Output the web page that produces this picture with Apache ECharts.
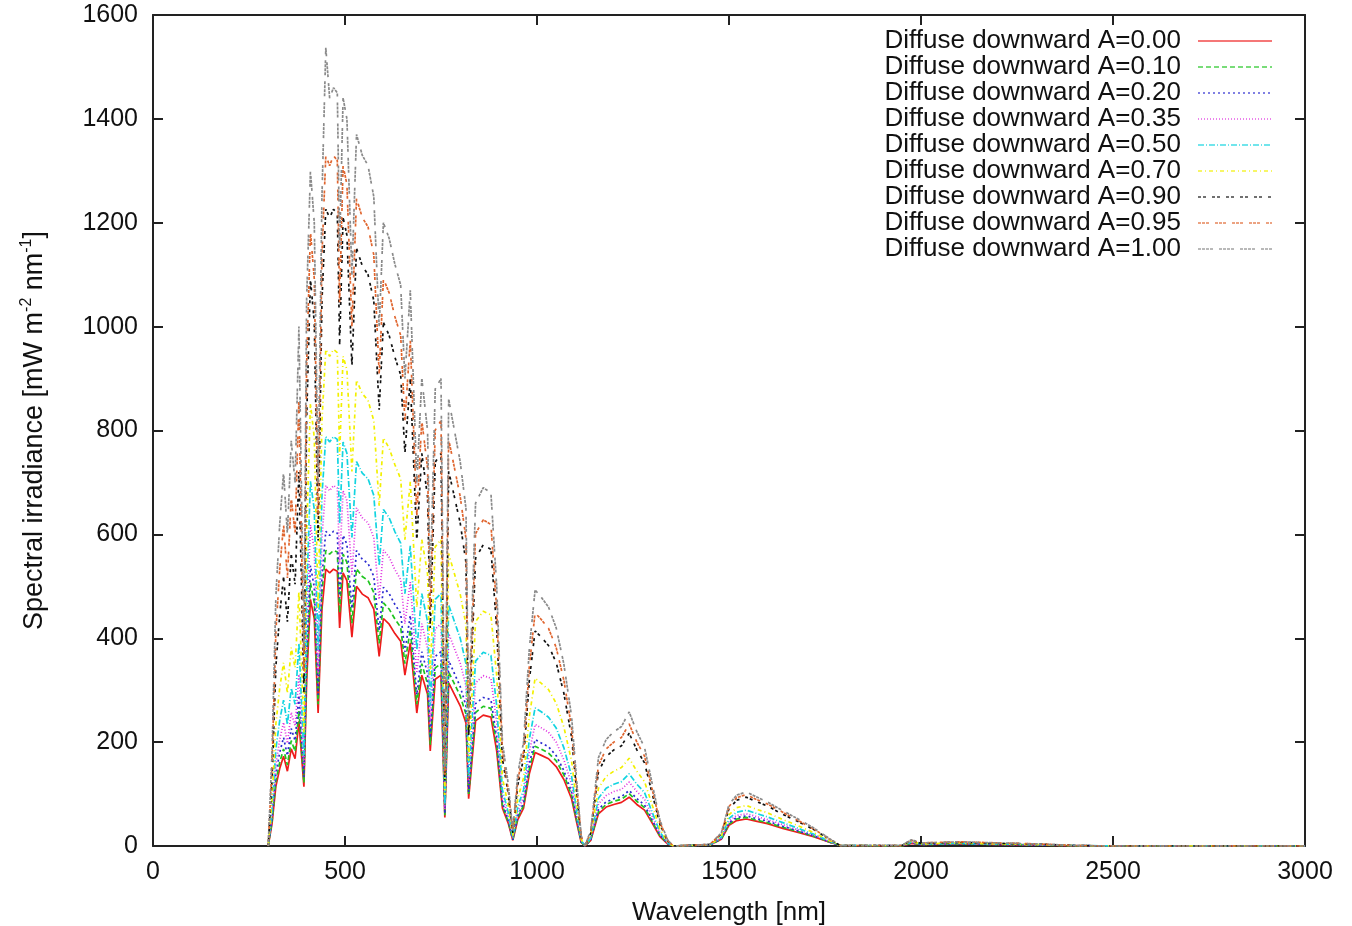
<!DOCTYPE html>
<html>
<head>
<meta charset="utf-8">
<script src="https://cdn.jsdelivr.net/npm/echarts@6/dist/echarts.min.js"></script>
<style>
  html, body { margin: 0; padding: 0; background: #fff; }
  #chart { width: 1352px; height: 926px; }
</style>
</head>
<body>
<div id="chart"></div>
<script>
// wavelength grid [nm]
const wavelength = [300, 310, 320, 330, 340, 350, 360, 370, 380, 393,
  400, 410, 420, 430, 440, 450, 460, 470, 480, 486,
  495, 505, 518, 530, 545, 560, 575, 589, 600, 615,
  630, 645, 656, 670, 687, 700, 715, 722, 735, 750,
  760, 770, 785, 800, 815, 822, 840, 860, 880, 895,
  910, 925, 937, 950, 965, 980, 995, 1010, 1030, 1050,
  1070, 1090, 1105, 1115, 1125, 1140, 1160, 1180, 1200, 1220,
  1240, 1260, 1280, 1300, 1320, 1340, 1355, 1450, 1480, 1500,
  1520, 1545, 1570, 1600, 1640, 1680, 1720, 1760, 1790, 1950,
  1975, 2000, 2100, 2200, 2300, 2400, 2500, 3000]

// diffuse downward irradiance [mW m-2 nm-1], one array per albedo
const albedo000 = [0, 43, 115, 149, 173, 144, 187, 168, 240, 114,
  315, 475, 438, 256, 456, 533, 526, 533, 529, 420,
  526, 511, 402, 500, 485, 478, 456, 365, 438, 427,
  409, 394, 329, 391, 256, 329, 292, 183, 321, 329,
  55, 314, 292, 270, 237, 91, 241, 252, 248, 183,
  73, 44, 11, 51, 73, 139, 180, 175, 168, 153,
  128, 91, 40, 7, 0, 11, 62, 75, 80, 84,
  94, 80, 69, 44, 18, 4, 0, 2, 13, 40,
  49, 52, 48, 43, 34, 26, 18, 8, 1, 0,
  5, 3, 4, 3, 2, 0, 0, 0]
const albedo010 = [0, 47, 125, 161, 187, 156, 203, 182, 260, 122,
  336, 507, 468, 273, 488, 569, 562, 569, 566, 449,
  562, 546, 429, 534, 519, 511, 488, 390, 468, 456,
  437, 421, 351, 417, 273, 351, 312, 195, 343, 351,
  59, 335, 312, 289, 254, 98, 257, 269, 265, 195,
  78, 47, 12, 55, 78, 148, 192, 187, 179, 164,
  137, 98, 43, 8, 0, 12, 66, 80, 86, 90,
  101, 86, 74, 47, 20, 5, 0, 2, 13, 42,
  52, 55, 50, 45, 36, 28, 19, 8, 1, 0,
  6, 3, 4, 3, 2, 0, 0, 0]
const albedo020 = [0, 52, 139, 180, 209, 174, 226, 203, 290, 133,
  368, 540, 498, 291, 519, 606, 598, 606, 602, 477,
  598, 581, 457, 569, 552, 544, 519, 415, 498, 486,
  465, 448, 374, 444, 291, 374, 332, 208, 365, 374,
  62, 357, 332, 307, 270, 104, 274, 286, 282, 208,
  83, 50, 12, 58, 83, 158, 205, 199, 191, 174,
  145, 104, 46, 8, 0, 12, 71, 85, 91, 95,
  107, 91, 79, 50, 21, 5, 0, 2, 14, 45,
  55, 58, 53, 48, 38, 29, 20, 8, 1, 1,
  6, 3, 4, 3, 2, 1, 0, 0]
const albedo035 = [0, 59, 158, 205, 238, 198, 257, 231, 330, 152,
  420, 618, 570, 333, 594, 694, 684, 694, 689, 546,
  684, 665, 523, 651, 632, 622, 594, 475, 570, 556,
  532, 513, 428, 508, 333, 428, 380, 238, 418, 428,
  71, 409, 380, 352, 309, 119, 314, 328, 323, 238,
  95, 57, 14, 67, 95, 181, 234, 228, 219, 200,
  166, 119, 52, 10, 0, 14, 81, 97, 105, 109,
  123, 105, 90, 57, 24, 6, 0, 2, 15, 48,
  59, 62, 57, 51, 41, 31, 21, 9, 1, 1,
  7, 3, 5, 3, 2, 1, 0, 0]
const albedo050 = [0, 70, 187, 242, 281, 234, 304, 273, 390, 175,
  483, 702, 648, 378, 675, 788, 778, 788, 783, 621,
  778, 756, 594, 740, 718, 707, 675, 540, 648, 632,
  605, 583, 486, 578, 378, 486, 432, 270, 475, 486,
  81, 464, 432, 400, 351, 135, 356, 373, 367, 270,
  108, 65, 16, 76, 108, 205, 266, 259, 248, 227,
  189, 135, 59, 11, 0, 16, 92, 111, 119, 124,
  139, 119, 103, 65, 27, 6, 0, 2, 17, 53,
  65, 69, 63, 56, 45, 34, 23, 10, 1, 1,
  8, 4, 5, 4, 3, 1, 0, 0]
const albedo070 = [0, 88, 235, 304, 353, 294, 382, 343, 490, 217,
  599, 852, 786, 459, 819, 956, 943, 956, 950, 753,
  943, 917, 721, 897, 871, 858, 819, 655, 786, 766,
  734, 707, 590, 701, 459, 590, 524, 328, 576, 590,
  98, 563, 524, 485, 426, 164, 432, 452, 445, 328,
  131, 79, 20, 92, 131, 249, 323, 314, 301, 275,
  229, 164, 72, 13, 0, 20, 111, 134, 144, 151,
  169, 144, 124, 79, 33, 8, 0, 2, 19, 60,
  74, 78, 71, 64, 51, 39, 26, 11, 1, 1,
  9, 4, 6, 4, 3, 1, 0, 0]
const albedo090 = [0, 130, 346, 446, 518, 432, 562, 504, 720, 296,
  819, 1092, 1008, 588, 1050, 1226, 1210, 1226, 1218, 966,
  1210, 1176, 924, 1151, 1117, 1100, 1050, 840, 1008, 983,
  941, 907, 756, 899, 588, 756, 672, 420, 739, 756,
  126, 722, 672, 622, 546, 210, 554, 580, 571, 420,
  168, 101, 25, 118, 168, 319, 414, 403, 386, 353,
  294, 210, 92, 17, 0, 25, 143, 172, 185, 193,
  217, 185, 160, 101, 42, 10, 0, 3, 23, 72,
  88, 94, 86, 77, 61, 47, 32, 14, 1, 1,
  11, 5, 7, 5, 4, 1, 0, 0]
const albedo095 = [0, 155, 413, 533, 619, 516, 671, 602, 860, 334,
  924, 1183, 1092, 637, 1138, 1329, 1310, 1329, 1320, 1047,
  1310, 1274, 1001, 1247, 1210, 1192, 1138, 910, 1092, 1065,
  1019, 983, 819, 974, 637, 819, 728, 455, 801, 819,
  137, 783, 728, 673, 592, 228, 601, 628, 619, 455,
  182, 109, 27, 127, 182, 346, 449, 437, 419, 382,
  319, 228, 100, 18, 0, 27, 155, 187, 200, 209,
  235, 200, 173, 109, 46, 11, 0, 3, 24, 76,
  93, 99, 90, 81, 65, 49, 33, 14, 1, 1,
  11, 6, 8, 6, 4, 1, 0, 0]
const albedo100 = [0, 180, 480, 620, 720, 600, 780, 700, 1000, 380,
  1050, 1300, 1200, 700, 1250, 1537, 1440, 1460, 1450, 1150,
  1440, 1400, 1100, 1370, 1330, 1310, 1250, 1000, 1200, 1170,
  1120, 1080, 900, 1070, 700, 900, 800, 500, 880, 900,
  150, 860, 800, 740, 650, 250, 660, 690, 680, 500,
  200, 120, 30, 140, 200, 380, 493, 480, 460, 420,
  350, 250, 110, 20, 0, 30, 170, 205, 220, 230,
  258, 220, 190, 120, 50, 12, 0, 3, 25, 80,
  98, 104, 95, 85, 68, 52, 35, 15, 1, 1,
  12, 6, 8, 6, 4, 1, 0, 0]

const seriesNames = ['Diffuse downward A=0.00', 'Diffuse downward A=0.10', 'Diffuse downward A=0.20',
  'Diffuse downward A=0.35', 'Diffuse downward A=0.50', 'Diffuse downward A=0.70',
  'Diffuse downward A=0.90', 'Diffuse downward A=0.95', 'Diffuse downward A=1.00']
const seriesValues = [albedo000, albedo010, albedo020, albedo035, albedo050,
  albedo070, albedo090, albedo095, albedo100]
const xTicks = [0, 500, 1000, 1500, 2000, 2500, 3000]
const yTicks = [0, 200, 400, 600, 800, 1000, 1200, 1400, 1600]

const colors = ['#ee1c1c', '#1fc41f', '#2b2bd0', '#e02ee0', '#12d4e0',
  '#f2f000', '#111111', '#e0652e', '#8a8a8a']
// gnuplot style dash patterns
const dashes = ['solid', [5, 3], [2, 3], [1, 2], [6, 2, 1, 2], [4, 3, 1, 3],
  [3, 2, 3, 6], [3, 1, 3, 1, 3, 6], [3, 1, 3, 1, 3, 1, 3, 6]]

const font = "'Liberation Sans', Arial, Helvetica, sans-serif"

// onZero off so the mirrored axes stay on the top / right edge of the frame
function axisLine() {
  return { show: true, onZero: false, lineStyle: { color: '#222', width: 2 } }
}
function axisTick() {
  return { show: true, inside: true, length: 10, lineStyle: { color: '#222', width: 2 } }
}

const chart = echarts.init(document.getElementById('chart'))

const option = {
  backgroundColor: '#fff',
  animation: false,
  grid: { left: 153, right: 47, top: 15, bottom: 80, outerBoundsMode: 'none', containLabel: false },
  legend: {
    orient: 'vertical',
    right: 74,
    top: 23,
    align: 'right',
    itemWidth: 74,
    itemHeight: 10,
    itemGap: 0,
    itemStyle: { opacity: 0 },
    lineStyle: { opacity: 0.6 },
    textStyle: { fontFamily: font, fontSize: 26, color: '#111', lineHeight: 26, padding: [0, 12, 0, 0] },
    data: seriesNames
  },
  xAxis: [{
    type: 'value',
    min: xTicks[0],
    max: xTicks[xTicks.length - 1],
    interval: 500,
    name: 'Wavelength [nm]',
    nameLocation: 'middle',
    nameGap: 54,
    nameTextStyle: { fontFamily: font, fontSize: 26, color: '#111' },
    axisLine: axisLine(),
    axisTick: axisTick(),
    splitLine: { show: false },
    axisLabel: { fontFamily: font, fontSize: 25, color: '#111', margin: 14, formatter: v => String(v) }
  }, {
    type: 'value',
    position: 'top',
    min: xTicks[0],
    max: xTicks[xTicks.length - 1],
    interval: 500,
    axisLine: axisLine(),
    axisTick: axisTick(),
    splitLine: { show: false },
    axisLabel: { show: false }
  }],
  yAxis: [{
    type: 'value',
    min: yTicks[0],
    max: yTicks[yTicks.length - 1],
    interval: 200,
    name: 'Spectral irradiance [mW m{sup|-2} nm{sup|-1}]',
    nameLocation: 'middle',
    nameRotate: 90,
    nameGap: 102,
    nameTextStyle: {
      fontFamily: font, fontSize: 27, color: '#111', lineHeight: 32,
      rich: { sup: { fontFamily: font, fontSize: 16, color: '#111', lineHeight: 16, verticalAlign: 'top' } }
    },
    axisLine: axisLine(),
    axisTick: axisTick(),
    splitLine: { show: false },
    axisLabel: { fontFamily: font, fontSize: 25, color: '#111', margin: 15, formatter: v => String(v) }
  }, {
    type: 'value',
    position: 'right',
    min: yTicks[0],
    max: yTicks[yTicks.length - 1],
    interval: 200,
    axisLine: axisLine(),
    axisTick: axisTick(),
    splitLine: { show: false },
    axisLabel: { show: false }
  }],
  series: seriesNames.map((name, i) => ({
    name,
    type: 'line',
    symbol: 'none',
    color: colors[i],
    lineStyle: { width: 1.7, type: dashes[i], color: colors[i] },
    data: wavelength.map((w, j) => [w, seriesValues[i][j]])
  }))
}

chart.setOption(option)
</script>
</body>
</html>
